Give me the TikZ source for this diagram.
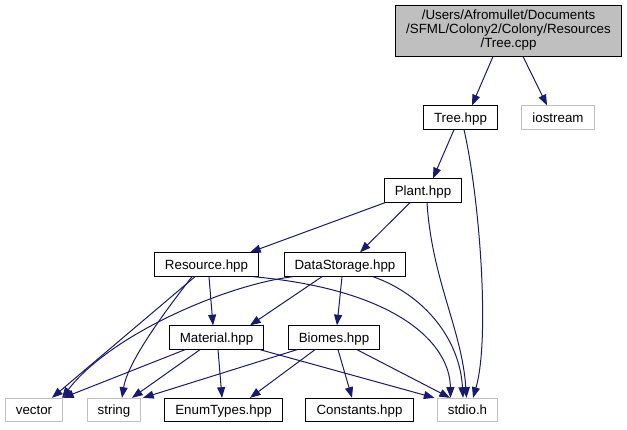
\documentclass[tikz,border=0pt]{standalone}
\usepackage{fontspec}
\setmainfont{Liberation Sans}
\usepackage{xcolor}
\usepackage{tikz}
\usetikzlibrary{arrows.meta,calc}

\definecolor{edgeblue}{HTML}{191970}
\definecolor{rootgray}{HTML}{BFBFBF}
\definecolor{sysgray}{HTML}{C0C0C0}

\begin{document}
\begin{tikzpicture}[
    x=0.75pt, y=-0.75pt,
    font=\fontsize{10}{10.5}\selectfont,
    box/.style={rectangle, draw, line width=0.75pt, inner xsep=7.9pt, inner ysep=0pt,
                minimum height=17.5pt, text height=7.2pt, text depth=0pt},
    sysbox/.style={box, draw=sysgray},
    arr/.style={-{Triangle[length=8pt,width=6pt]}, draw=edgeblue, line width=0.75pt}
]
\useasboundingbox (0,0) rectangle (627,429);
% Source file (top)
\node[box, fill=rootgray, align=center, minimum height=38.25pt, text height=, text depth=]
     (cpp) at (508.5,30.5)
     {/Users/Afromullet/Documents\\/SFML/Colony2/Colony/Resources\\/Tree.cpp};
% Headers, row by row
\node[box]    (treehpp)  at (460.5,117.5) {Tree.hpp};
\node[sysbox] (iostream) at (558,117.5)   {iostream};
\node[box]    (plant)    at (423,190.5)   {Plant.hpp};
\node[box]    (resource) at (206.5,264.5) {Resource.hpp};
\node[box]    (datastor) at (345,264.5)   {DataStorage.hpp};
\node[box]    (material) at (216.5,337.5) {Material.hpp};
\node[box]    (biomes)   at (334,337.5)   {Biomes.hpp};
% System and leaf headers (bottom)
\node[sysbox] (vector)   at (34,410)      {vector};
\node[sysbox] (string)   at (114,410)     {string};
\node[box]    (enumtypes) at (223.5,410)  {EnumTypes.hpp};
\node[box]    (constants) at (359.5,410)  {Constants.hpp};
\node[sysbox] (stdio)    at (467.5,410)   {stdio.h};
% Edges
\draw[arr] ($(cpp.south)+(-15.5,0)$) -- ($(treehpp.north)+(11.5,0)$);
\draw[arr] ($(cpp.south)+(14.5,0)$) -- ($(iostream.north)+(-11,0)$);
\draw[arr] ($(treehpp.south)+(-6.5,0)$) -- ($(plant.north)+(10,0)$);
\draw[arr] ($(treehpp.south)+(3.5,0)$) .. controls (480,200) and (490,340) .. ($(stdio.north)+(5.5,0)$);
\draw[arr] ($(plant.south)+(-38,0)$) -- ($(resource.north)+(43.5,0)$);
\draw[arr] ($(plant.south)+(-13,0)$) -- ($(datastor.north)+(15,0)$);
\draw[arr] ($(plant.south)+(4,0)$) .. controls (432,280) and (462,330) .. ($(stdio.north)+(-1,0)$);
\draw[arr] ($(resource.south)+(2.5,0)$) -- ($(material.north)+(-3.5,0)$);
\draw[arr] ($(resource.south)+(-11.5,0)$) -- ($(vector.north)+(18,0)$);
\draw[arr] ($(resource.south)+(-14.5,0)$) .. controls (170,305) and (128,360) .. ($(string.north)+(8,0)$);
\draw[arr] ($(resource.south)+(46.5,0)$) .. controls (400,290) and (450,345) .. ($(stdio.north)+(-17,0)$);
\draw[arr] ($(datastor.south)+(-23,0)$) -- ($(material.north)+(33.5,0)$);
\draw[arr] ($(datastor.south)+(-3,0)$) -- ($(biomes.north)+(3,0)$);
\draw[arr] ($(datastor.south)+(-52,0)$) .. controls (225,285) and (110,335) .. ($(vector.north)+(28,0)$);
\draw[arr] ($(datastor.south)+(28,0)$) .. controls (425,295) and (460,340) .. ($(stdio.north)+(-4.5,0)$);
\draw[arr] ($(material.south)+(-31.5,0)$) -- ($(vector.north)+(29,0)$);
\draw[arr] ($(material.south)+(-16.5,0)$) -- ($(string.north)+(18,0)$);
\draw[arr] ($(material.south)+(1.5,0)$) -- ($(enumtypes.north)+(-1.5,0)$);
\draw[arr] ($(material.south)+(43.5,0)$) -- ($(stdio.north)+(-33,0)$);
\draw[arr] ($(biomes.south)+(-37,0)$) -- ($(string.north)+(29,0)$);
\draw[arr] ($(biomes.south)+(-19,0)$) -- ($(enumtypes.north)+(26.5,0)$);
\draw[arr] ($(biomes.south)+(4,0)$) -- ($(constants.north)+(-7.5,0)$);
\draw[arr] ($(biomes.south)+(23,0)$) -- ($(stdio.north)+(-17.5,0)$);
\end{tikzpicture}
\end{document}
